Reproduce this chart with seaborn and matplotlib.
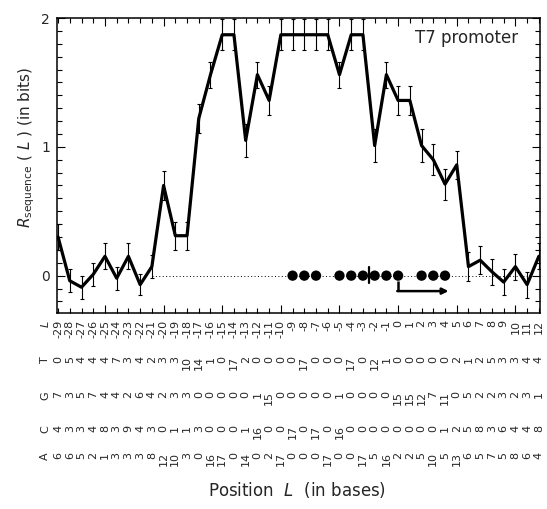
import numpy as np
import pandas as pd
import matplotlib
matplotlib.use("Agg")
import matplotlib.pyplot as plt
import seaborn as sns
from matplotlib.transforms import blended_transform_factory
from matplotlib.ticker import MultipleLocator

# ---------------- data ----------------
positions = list(range(-29, 13))
r_sequence = [0.30, -0.04, -0.09, 0.01, 0.15, -0.02, 0.15, -0.07, 0.07, 0.70,
              0.31, 0.31, 1.22, 1.56, 1.87, 1.87, 1.05, 1.56, 1.36, 1.87,
              1.87, 1.87, 1.87, 1.87, 1.56, 1.87, 1.87, 1.01, 1.56, 1.36,
              1.36, 1.01, 0.90, 0.71, 0.86, 0.07, 0.12, 0.03, -0.05, 0.07,
              -0.07, 0.15]
r_error = [0.10, 0.09, 0.09, 0.09, 0.10, 0.09, 0.10, 0.08, 0.09, 0.11,
           0.11, 0.11, 0.11, 0.10, 0.12, 0.12, 0.13, 0.10, 0.11, 0.12,
           0.12, 0.12, 0.12, 0.12, 0.10, 0.12, 0.12, 0.13, 0.10, 0.11,
           0.11, 0.13, 0.12, 0.12, 0.11, 0.11, 0.11, 0.10, 0.10, 0.10,
           0.10, 0.10]
count_T = [0, 5, 4, 4, 4, 7, 3, 4, 2, 3, 3, 10, 14, 1, 0, 17, 2, 0, 0, 0, 0,
           17, 0, 0, 0, 17, 0, 12, 1, 0, 0, 0, 0, 0, 2, 1, 2, 5, 3, 3, 4, 4]
count_G = [7, 3, 5, 7, 4, 4, 2, 6, 4, 2, 3, 3, 0, 0, 0, 0, 0, 1, 15, 0, 0,
           0, 0, 0, 1, 0, 0, 0, 0, 15, 15, 12, 7, 11, 0, 5, 2, 2, 3, 2, 3, 1]
count_C = [4, 3, 3, 4, 8, 3, 9, 4, 3, 0, 1, 1, 3, 0, 0, 0, 1, 16, 0, 0, 17,
           0, 17, 0, 16, 0, 0, 0, 0, 0, 0, 0, 0, 1, 2, 5, 8, 3, 6, 4, 4, 8]
count_A = [6, 6, 5, 2, 1, 3, 3, 3, 8, 12, 10, 3, 0, 16, 17, 0, 14, 0, 2, 17,
           0, 0, 0, 17, 0, 0, 17, 5, 16, 2, 2, 5, 10, 5, 13, 6, 5, 7, 5, 8, 6, 4]
base_letters = ["T", "G", "C", "A"]
position_labels = ["-29", "-28", "-27", "-26", "-25", "-24", "-23", "-22", "-21",
                   "-20", "-19", "-18", "-17", "-16", "-15", "-14", "-13", "-12",
                   "-11", "-10", "-9", "-8", "-7", "-6", "-5", "-4", "-3", "-2",
                   "-1", "0", "1", "2", "3", "4", "5", "6", "7", "8", "9", "10",
                   "11", "12"]
dot_positions = [-9, -8, -7, -5, -4, -3, -2, -1, 0, 2, 3, 4]

# ---------------- figure ----------------
sns.set_style("ticks")
plt.rcParams['font.family'] = ['DejaVu Sans']
plt.rcParams['mathtext.fontset'] = 'dejavusans'

W, H = 547, 509
fig = plt.figure(figsize=(W / 100, H / 100), dpi=100)
ax = fig.add_axes([57 / W, 1 - 313 / H, 483 / W, (313 - 18) / H])

df = pd.DataFrame({"pos": positions, "R": r_sequence, "err": r_error})

ax.plot([-21, 12.1], [0, 0], ls=(0, (1, 2.5)), color="black", lw=0.7, zorder=1)
ax.errorbar(df["pos"], df["R"], yerr=df["err"], fmt="none", ecolor="black",
            elinewidth=0.8, capsize=1.5, capthick=0.8, zorder=2, clip_on=True)
sns.lineplot(data=df, x="pos", y="R", color="black", lw=2.3, ax=ax, zorder=3)

sns.scatterplot(x=dot_positions, y=[0] * len(dot_positions), s=55, color="black",
                edgecolor="none", ax=ax, zorder=4, legend=False)
ax.plot([-2.5, -2.5], [-0.06, 0.07], color="black", lw=1.6, zorder=5)

# start-site arrow
ax.plot([0, 0], [-0.04, -0.12], color="black", lw=1.8, zorder=5,
        solid_capstyle="butt")
ax.annotate("", xy=(4.3, -0.12), xytext=(-0.07, -0.12),
            arrowprops=dict(arrowstyle="-|>", lw=1.8, color="black",
                            mutation_scale=9, shrinkA=0, shrinkB=0))

ax.set_xlim(-29.09, 12.1)
ax.set_ylim(-0.29, 2.0)
ax.xaxis.set_major_locator(MultipleLocator(5))
ax.xaxis.set_minor_locator(MultipleLocator(1))
ax.yaxis.set_major_locator(MultipleLocator(1))
ax.yaxis.set_minor_locator(MultipleLocator(0.1))
ax.tick_params(which="both", direction="in", top=True, right=True,
               bottom=True, left=True, width=0.8, color="black")
ax.tick_params(which="major", length=6)
ax.tick_params(which="minor", length=3.5)
ax.tick_params(axis="y", which="major", labelsize=10, pad=5)
ax.set_xticklabels([])
ax.set_yticks([0, 1, 2])
ax.set_yticklabels(["0", "1", "2"])
ax.set_xlabel("")
ax.set_ylabel("")
for s in ax.spines.values():
    s.set_linewidth(1.1)
    s.set_color("black")

ax.text(0.954, 0.932, "T7 promoter", transform=ax.transAxes, ha="right",
        va="center", fontsize=12)

fig.text(27 / W, 1 - 147 / H, r"$R_{\mathrm{sequence}}$ ( $L$ ) (in bits)",
         rotation=90, ha="center", va="center", fontsize=11)
fig.text(297 / W, 1 - 490 / H, r"Position  $L$  (in bases)", ha="center",
         va="center", fontsize=12)

# ---------------- table under the axis ----------------
trans = blended_transform_factory(ax.transData, fig.transFigure)
label_x = -30.1
rows = [(r"$L$", position_labels, 320),
        ("T", count_T, 356),
        ("G", count_G, 391),
        ("C", count_C, 425),
        ("A", count_A, 452)]
for head, vals, ytop in rows:
    ax.text(label_x, 1 - ytop / H, head, transform=trans, rotation=90,
            ha="center", va="top", fontsize=8, clip_on=False)
    for p, v in zip(positions, vals):
        ax.text(p, 1 - ytop / H, str(v), transform=trans, rotation=90,
                ha="center", va="top", fontsize=8, clip_on=False)

fig.savefig("out.png", dpi=100, facecolor="white")
